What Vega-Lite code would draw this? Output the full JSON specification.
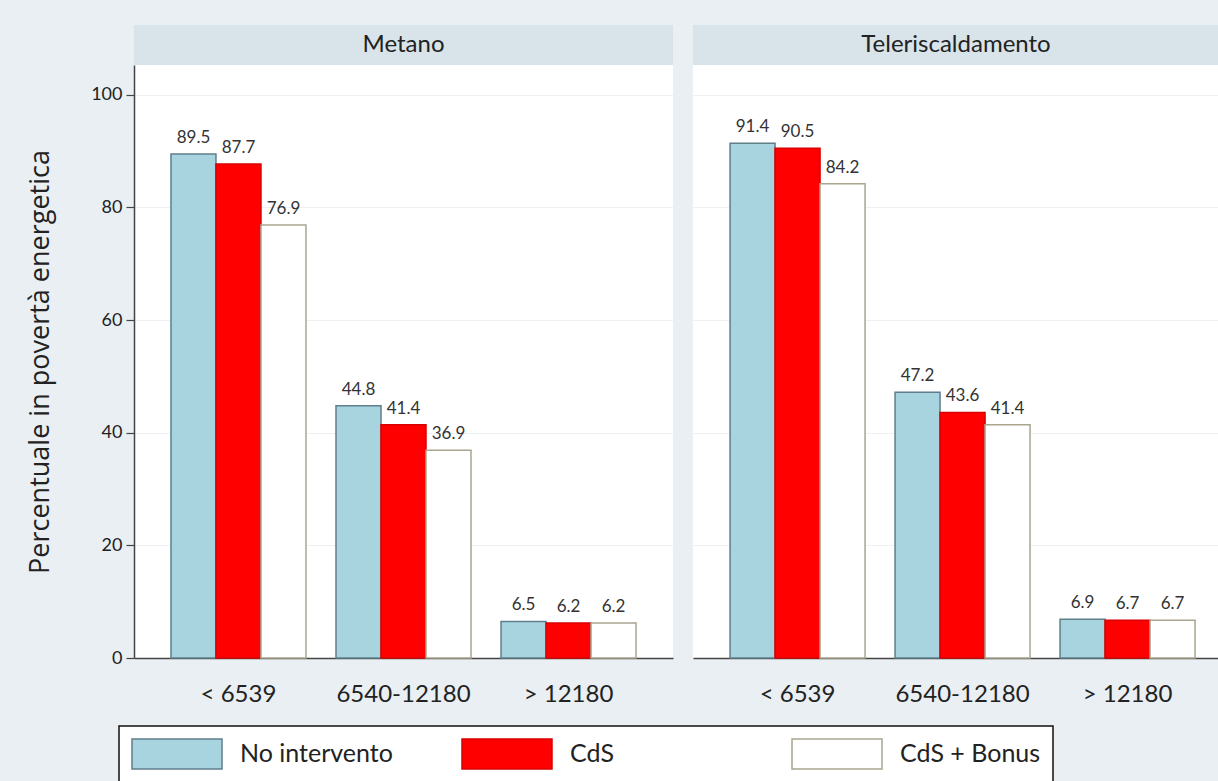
{
  "$schema": "https://vega.github.io/schema/vega-lite/v6.json",
  "background": "#e9eff2",
  "padding": {"left": 26, "top": 25, "right": 0, "bottom": 0},
  "data": {"values": [
    {"panel": "Metano", "cat": "< 6539", "series": "No intervento", "value": 89.5},
    {"panel": "Metano", "cat": "< 6539", "series": "CdS", "value": 87.7},
    {"panel": "Metano", "cat": "< 6539", "series": "CdS + Bonus", "value": 76.9},
    {"panel": "Metano", "cat": "6540-12180", "series": "No intervento", "value": 44.8},
    {"panel": "Metano", "cat": "6540-12180", "series": "CdS", "value": 41.4},
    {"panel": "Metano", "cat": "6540-12180", "series": "CdS + Bonus", "value": 36.9},
    {"panel": "Metano", "cat": "> 12180", "series": "No intervento", "value": 6.5},
    {"panel": "Metano", "cat": "> 12180", "series": "CdS", "value": 6.2},
    {"panel": "Metano", "cat": "> 12180", "series": "CdS + Bonus", "value": 6.2},
    {"panel": "Teleriscaldamento", "cat": "< 6539", "series": "No intervento", "value": 91.4},
    {"panel": "Teleriscaldamento", "cat": "< 6539", "series": "CdS", "value": 90.5},
    {"panel": "Teleriscaldamento", "cat": "< 6539", "series": "CdS + Bonus", "value": 84.2},
    {"panel": "Teleriscaldamento", "cat": "6540-12180", "series": "No intervento", "value": 47.2},
    {"panel": "Teleriscaldamento", "cat": "6540-12180", "series": "CdS", "value": 43.6},
    {"panel": "Teleriscaldamento", "cat": "6540-12180", "series": "CdS + Bonus", "value": 41.4},
    {"panel": "Teleriscaldamento", "cat": "> 12180", "series": "No intervento", "value": 6.9},
    {"panel": "Teleriscaldamento", "cat": "> 12180", "series": "CdS", "value": 6.7},
    {"panel": "Teleriscaldamento", "cat": "> 12180", "series": "CdS + Bonus", "value": 6.7}
  ]},
  "columns": 2,
  "spacing": {"row": 0, "column": 20},
  "bounds": "flush",
  "align": "each",
  "resolve": {"scale": {"x": "independent", "y": "independent"}},
  "concat": [
    {
      "width": 539, "height": 40,
      "view": {"fill": "#d8e4ea", "stroke": null},
      "transform": [{"filter": "datum.panel === 'Metano' && datum.cat === '< 6539' && datum.series === 'CdS'"}],
      "mark": {"type": "text", "font": "Lato", "fontSize": 24, "color": "#222"},
      "encoding": {"text": {"field": "panel"}}
    },
    {
      "width": 526, "height": 40,
      "view": {"fill": "#d8e4ea", "stroke": null},
      "transform": [{"filter": "datum.panel === 'Teleriscaldamento' && datum.cat === '< 6539' && datum.series === 'CdS'"}],
      "mark": {"type": "text", "font": "Lato", "fontSize": 24, "color": "#222"},
      "encoding": {"text": {"field": "panel"}}
    },
    {
      "width": 539, "height": 593,
      "view": {"fill": "white", "stroke": null},
      "transform": [{"filter": "datum.panel === 'Metano'"}],
      "encoding": {
        "x": {"field": "cat", "type": "nominal", "sort": ["< 6539", "6540-12180", "> 12180"],
              "scale": {"paddingInner": 0.182, "paddingOuter": 0.224},
              "axis": {"title": null, "labelAngle": 0, "ticks": false, "labelPadding": 24, "labelFontSize": 24, "labelFont": "Lato", "labelColor": "#222", "domainColor": "#444", "domainWidth": 1.5}},
        "xOffset": {"field": "series", "sort": ["No intervento", "CdS", "CdS + Bonus"], "scale": {"paddingInner": 0, "paddingOuter": 0}},
        "y": {"field": "value", "type": "quantitative",
              "scale": {"domain": [0, 105.3], "nice": false},
              "axis": {"title": "Percentuale in povertà energetica", "titleFont": "Open Sans", "titleFontSize": 27, "titleFontWeight": "normal", "titleColor": "#222", "titlePadding": 36,
                       "values": [0, 20, 40, 60, 80, 100], "labelFont": "Lato", "labelFontSize": 18, "labelColor": "#222", "labelPadding": 4, "tickSize": 8, "tickColor": "#444", "tickWidth": 1.2,
                       "domainColor": "#444", "domainWidth": 1.5, "grid": true, "gridColor": "#edf1f3", "gridWidth": 1.2}}
      },
      "layer": [
        {
          "mark": {"type": "bar", "strokeWidth": 1.5},
          "encoding": {
            "color": {"field": "series", "type": "nominal", "sort": ["No intervento", "CdS", "CdS + Bonus"],
                      "scale": {"domain": ["No intervento", "CdS", "CdS + Bonus"], "range": ["#a8d4e0", "#ff0000", "#ffffff"]}, "title": null},
            "stroke": {"field": "series", "type": "nominal", "sort": ["No intervento", "CdS", "CdS + Bonus"],
                       "scale": {"domain": ["No intervento", "CdS", "CdS + Bonus"], "range": ["#5f7f8b", "#d90000", "#a9a58e"]}, "title": null}
          }
        },
        {
          "mark": {"type": "text", "baseline": "bottom", "dy": -7, "font": "Lato", "fontSize": 17, "color": "#333"},
          "encoding": {"text": {"field": "value", "type": "quantitative", "format": ".1f"}}
        }
      ]
    },
    {
      "width": 526, "height": 593,
      "view": {"fill": "white", "stroke": null},
      "transform": [{"filter": "datum.panel === 'Teleriscaldamento'"}],
      "encoding": {
        "x": {"field": "cat", "type": "nominal", "sort": ["< 6539", "6540-12180", "> 12180"],
              "scale": {"paddingInner": 0.182, "paddingOuter": 0.185, "align": 0.607},
              "axis": {"title": null, "labelAngle": 0, "ticks": false, "labelPadding": 24, "labelFontSize": 24, "labelFont": "Lato", "labelColor": "#222", "domainColor": "#444", "domainWidth": 1.5}},
        "xOffset": {"field": "series", "sort": ["No intervento", "CdS", "CdS + Bonus"], "scale": {"paddingInner": 0, "paddingOuter": 0}},
        "y": {"field": "value", "type": "quantitative",
              "scale": {"domain": [0, 105.3], "nice": false},
              "axis": {"title": null, "values": [0, 20, 40, 60, 80, 100], "labels": false, "ticks": false, "domain": false, "grid": true, "gridColor": "#edf1f3", "gridWidth": 1.2}}
      },
      "layer": [
        {
          "mark": {"type": "bar", "strokeWidth": 1.5},
          "encoding": {
            "color": {"field": "series", "type": "nominal", "sort": ["No intervento", "CdS", "CdS + Bonus"],
                      "scale": {"domain": ["No intervento", "CdS", "CdS + Bonus"], "range": ["#a8d4e0", "#ff0000", "#ffffff"]}, "title": null},
            "stroke": {"field": "series", "type": "nominal", "sort": ["No intervento", "CdS", "CdS + Bonus"],
                       "scale": {"domain": ["No intervento", "CdS", "CdS + Bonus"], "range": ["#5f7f8b", "#d90000", "#a9a58e"]}, "title": null}
          }
        },
        {
          "mark": {"type": "text", "baseline": "bottom", "dy": -7, "font": "Lato", "fontSize": 17, "color": "#333"},
          "encoding": {"text": {"field": "value", "type": "quantitative", "format": ".1f"}}
        }
      ]
    }
  ],
  "config": {
    "view": {"stroke": null},
    "legend": {
      "orient": "none", "legendX": -15, "legendY": 701, "direction": "horizontal", "columns": 3, "gridAlign": "all",
      "columnPadding": 66, "padding": 12, "strokeColor": "#111", "strokeWidth": 1.5, "fillColor": "white",
      "symbolType": "M-1,-1H5V1H-1Z", "symbolSize": 900, "symbolStrokeWidth": 1.5,
      "labelFont": "Lato", "labelFontSize": 25, "labelColor": "#222", "labelOffset": 77, "labelLimit": 400
    }
  }
}
